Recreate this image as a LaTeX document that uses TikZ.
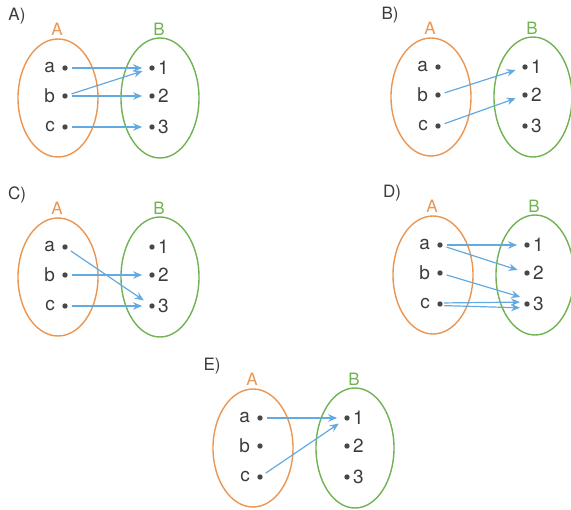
\documentclass[tikz,border=0pt]{standalone}
\usepackage{fontspec}
\setmainfont{TeX Gyre Heros}
\usetikzlibrary{arrows.meta}
\definecolor{setA}{RGB}{234,150,82}
\definecolor{setB}{RGB}{112,178,84}
\definecolor{arrowblue}{RGB}{98,170,224}
\definecolor{dotgray}{RGB}{72,72,72}
\definecolor{txtgray}{RGB}{60,60,60}
\tikzset{
  setA/.style={draw=setA, line width=1.4pt},
  setB/.style={draw=setB, line width=1.4pt},
  setlabelA/.style={text=setA, font=\fontsize{17}{18}\selectfont},
  setlabelB/.style={text=setB, font=\fontsize{17}{18}\selectfont},
  panellabel/.style={text=txtgray, font=\fontsize{17}{18}\selectfont},
  elt/.style={circle, fill=dotgray, inner sep=0pt, minimum size=5.4pt},
  elttext/.style={text=txtgray, font=\fontsize{19}{20}\selectfont, inner sep=0pt},
  maparrow/.style={draw=arrowblue, line width=1.2pt, -{Stealth[length=9pt,width=7.5pt]}, shorten <=4pt, shorten >=7pt},
}
\newcommand{\vennpanel}[4]{%
  \node[panellabel] (#1lab) at (#2,#3) {#4)};
  \draw[setA] (#2+41,#3+82) ellipse[x radius=40, y radius=59];
  \draw[setB] (#2+143,#3+82) ellipse[x radius=39, y radius=60];
  \node[setlabelA] (#1setA) at (#2+40,#3+13) {A};
  \node[setlabelB] (#1setB) at (#2+142,#3+13) {B};
  \node[elt] (#1a) at (#2+48,#3+52) {};
  \node[elt] (#1b) at (#2+48,#3+80) {};
  \node[elt] (#1c) at (#2+48,#3+111) {};
  \node[elttext, anchor=east] (#1ta) at ([xshift=-7pt]#1a.west) {a};
  \node[elttext, anchor=east] (#1tb) at ([xshift=-7pt]#1b.west) {b};
  \node[elttext, anchor=east] (#1tc) at ([xshift=-7pt]#1c.west) {c};
  \node[elt] (#11) at (#2+135,#3+52) {};
  \node[elt] (#12) at (#2+135,#3+80) {};
  \node[elt] (#13) at (#2+135,#3+111) {};
  \node[elttext, anchor=west] (#1t1) at ([xshift=3pt]#11.east) {1};
  \node[elttext, anchor=west] (#1t2) at ([xshift=3pt]#12.east) {2};
  \node[elttext, anchor=west] (#1t3) at ([xshift=3pt]#13.east) {3};
}
\begin{document}
\begin{tikzpicture}[x=1pt,y=-1pt]
\useasboundingbox (0,0) rectangle (571,510);
\vennpanel{PA}{17}{16}{A}
\vennpanel{PB}{390}{15}{B}
\vennpanel{PC}{17}{195}{C}
\vennpanel{PD}{392}{193}{D}
\vennpanel{PE}{212}{366}{E}
% A
\draw[maparrow] (PAa) -- (PA1);
\draw[maparrow] (PAb) -- (PA1);
\draw[maparrow] (PAb) -- (PA2);
\draw[maparrow] (PAc) -- (PA3);
% B
\draw[maparrow] (PBb) -- (PB1);
\draw[maparrow] (PBc) -- (PB2);
% C
\draw[maparrow] (PCa) -- (PC3);
\draw[maparrow] (PCb) -- (PC2);
\draw[maparrow] (PCc) -- (PC3);
% D
\draw[maparrow] (PDa) -- (PD1);
\draw[maparrow] (PDa) -- (PD2);
\draw[maparrow] (PDb) -- ([yshift=5pt]PD3.center);
\draw[maparrow] ([yshift=1pt]PDc.center) -- ([yshift=2pt]PD3.center);
\draw[maparrow] ([yshift=-1.5pt]PDc.center) -- ([yshift=-4pt]PD3.center);
% E
\draw[maparrow] (PEa) -- (PE1);
\draw[maparrow] (PEc) -- (PE1);
\end{tikzpicture}
\end{document}
